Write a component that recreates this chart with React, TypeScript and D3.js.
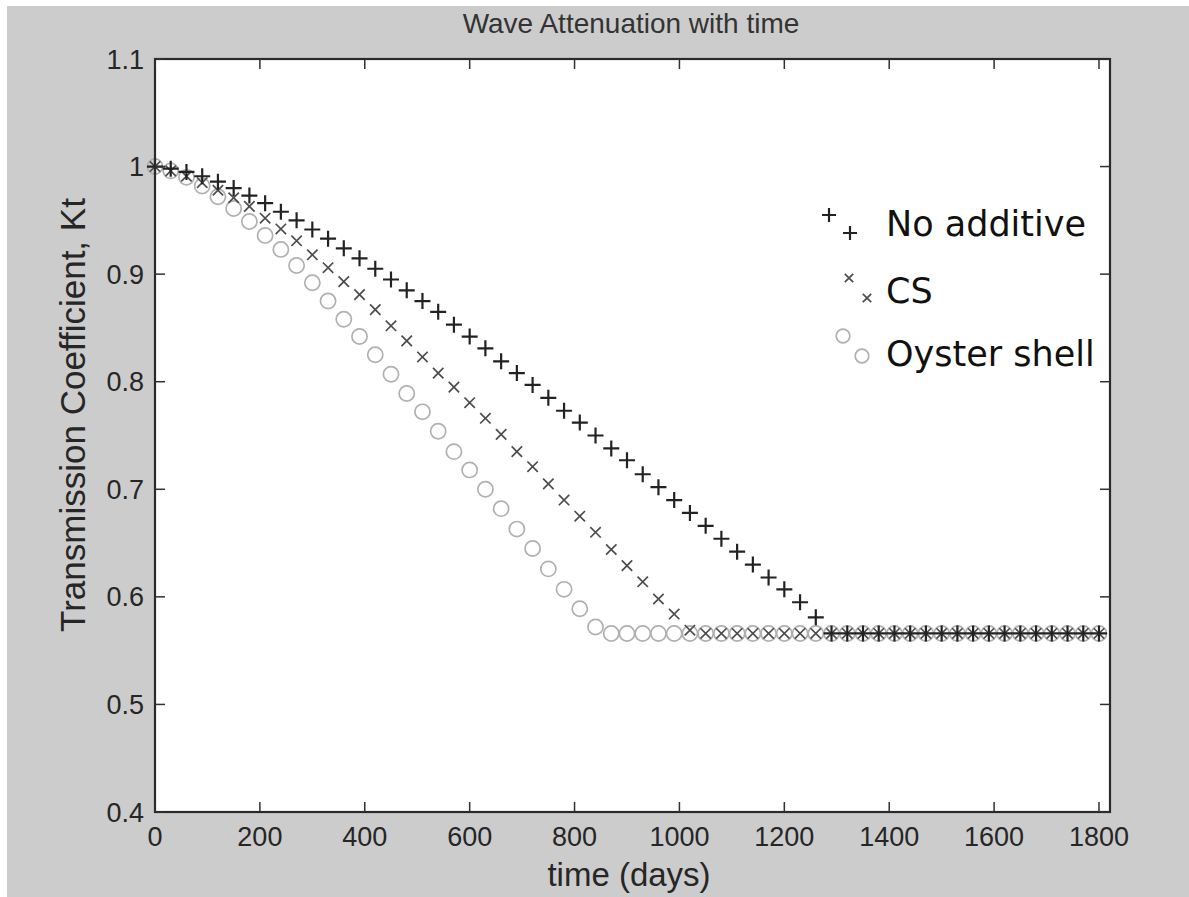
import React from "react";
import * as d3 from "d3";

const days = [
  0, 30, 60, 90, 120, 150, 180, 210, 240, 270,
  300, 330, 360, 390, 420, 450, 480, 510, 540, 570,
  600, 630, 660, 690, 720, 750, 780, 810, 840, 870,
  900, 930, 960, 990, 1020, 1050, 1080, 1110, 1140, 1170,
  1200, 1230, 1260, 1290, 1320, 1350, 1380, 1410, 1440, 1470,
  1500, 1530, 1560, 1590, 1620, 1650, 1680, 1710, 1740, 1770,
  1800,
];

const noAdditive = [
  1.0, 0.998, 0.995, 0.991, 0.986, 0.98, 0.973, 0.966, 0.958, 0.95,
  0.9415, 0.933, 0.924, 0.9147, 0.905, 0.895, 0.885, 0.875, 0.865, 0.853,
  0.842, 0.831, 0.819, 0.808, 0.797, 0.785, 0.773, 0.762, 0.75, 0.738,
  0.727, 0.714, 0.702, 0.69, 0.678, 0.666, 0.654, 0.642, 0.63, 0.618,
  0.607, 0.595, 0.581, 0.566, 0.566, 0.566, 0.566, 0.566, 0.566, 0.566,
  0.566, 0.566, 0.566, 0.566, 0.566, 0.566, 0.566, 0.566, 0.566, 0.566,
  0.566,
];

const cs = [
  1.0, 0.996, 0.991, 0.985, 0.978, 0.971, 0.963, 0.952, 0.942, 0.931,
  0.918, 0.906, 0.893, 0.881, 0.867, 0.852, 0.838, 0.823, 0.808, 0.795,
  0.7805, 0.766, 0.751, 0.735, 0.721, 0.705, 0.69, 0.675, 0.66, 0.644,
  0.629, 0.614, 0.598, 0.584, 0.569, 0.566, 0.566, 0.566, 0.566, 0.566,
  0.566, 0.566, 0.566, 0.566, 0.566, 0.566, 0.566, 0.566, 0.566, 0.566,
  0.566, 0.566, 0.566, 0.566, 0.566, 0.566, 0.566, 0.566, 0.566, 0.566,
  0.566,
];

const oyster = [
  1.0, 0.996, 0.99, 0.982, 0.972, 0.961, 0.949, 0.936, 0.923, 0.908,
  0.892, 0.875, 0.858, 0.842, 0.825, 0.807, 0.789, 0.772, 0.754, 0.735,
  0.718, 0.7, 0.682, 0.663, 0.645, 0.626, 0.607, 0.589, 0.572, 0.566,
  0.566, 0.566, 0.566, 0.566, 0.566, 0.566, 0.566, 0.566, 0.566, 0.566,
  0.566, 0.566, 0.566, 0.566, 0.566, 0.566, 0.566, 0.566, 0.566, 0.566,
  0.566, 0.566, 0.566, 0.566, 0.566, 0.566, 0.566, 0.566, 0.566, 0.566,
  0.566,
];

const xTicks = [0, 200, 400, 600, 800, 1000, 1200, 1400, 1600, 1800];
const yTicks = [0.4, 0.5, 0.6, 0.7, 0.8, 0.9, 1.0, 1.1];
const yTickLabels = ["0.4", "0.5", "0.6", "0.7", "0.8", "0.9", "1", "1.1"];
const legendLabels = ["No additive", "CS", "Oyster shell"];

const W = 1189;
const H = 897;
const plot = { left: 155, right: 1110, top: 59, bottom: 812 };

const tickFont = "'Liberation Sans', Arial, sans-serif";
const legendFont = "'DejaVu Sans', Verdana, sans-serif";

const PLUS_COLOR = "#222222";
const X_COLOR = "#4c4c4c";
const O_COLOR = "#b0b0b0";

function PlusMark({ x, y, s = 8 }: { x: number; y: number; s?: number }) {
  return (
    <path
      d={`M${x - s},${y}H${x + s}M${x},${y - s}V${y + s}`}
      stroke={PLUS_COLOR}
      strokeWidth={2.2}
      fill="none"
    />
  );
}
function XMark({ x, y, s = 5.2 }: { x: number; y: number; s?: number }) {
  return (
    <path
      d={`M${x - s},${y - s}L${x + s},${y + s}M${x - s},${y + s}L${x + s},${y - s}`}
      stroke={X_COLOR}
      strokeWidth={1.7}
      fill="none"
    />
  );
}
function OMark({ x, y, r = 7.6 }: { x: number; y: number; r?: number }) {
  return <circle cx={x} cy={y} r={r} stroke={O_COLOR} strokeWidth={1.7} fill="none" />;
}

export default function App() {
  const xScale = d3.scaleLinear().domain([0, 1821]).range([plot.left, plot.right]);
  const yScale = d3.scaleLinear().domain([0.4, 1.1]).range([plot.bottom, plot.top]);

  return (
    <svg
      width={W}
      height={H}
      style={{ position: "absolute", left: 0, top: 0, display: "block" }}
    >
      <rect x={0} y={0} width={W} height={H} fill="#ffffff" />
      <rect x={7} y={6} width={W - 7} height={H - 6} fill="#cccccc" />
      <rect
        x={plot.left}
        y={plot.top}
        width={plot.right - plot.left}
        height={plot.bottom - plot.top}
        fill="#ffffff"
      />

      {/* title */}
      <text
        x={631}
        y={33}
        textAnchor="middle"
        fontFamily={tickFont}
        fontSize={28}
        fill="#333"
      >
        Wave Attenuation with time
      </text>

      {/* series */}
      <g>
        {days.map((d, i) => (
          <OMark key={"o" + i} x={xScale(d)} y={yScale(oyster[i])} />
        ))}
        {days.map((d, i) => (
          <XMark key={"x" + i} x={xScale(d)} y={yScale(cs[i])} />
        ))}
        {days.map((d, i) => (
          <PlusMark key={"p" + i} x={xScale(d)} y={yScale(noAdditive[i])} />
        ))}
      </g>

      {/* frame */}
      <rect
        x={plot.left}
        y={plot.top}
        width={plot.right - plot.left}
        height={plot.bottom - plot.top}
        fill="none"
        stroke="#2a2a2a"
        strokeWidth={2.2}
      />
      {xTicks.map((t) => (
        <g key={"xt" + t}>
          <line x1={xScale(t)} x2={xScale(t)} y1={plot.bottom} y2={plot.bottom - 10} stroke="#303030" strokeWidth={1.5} />
          <line x1={xScale(t)} x2={xScale(t)} y1={plot.top} y2={plot.top + 10} stroke="#303030" strokeWidth={1.5} />
          <text
            x={xScale(t)}
            y={846}
            textAnchor="middle"
            fontFamily={tickFont}
            fontSize={27}
            fill="#262626"
          >
            {t}
          </text>
        </g>
      ))}
      {yTicks.map((t, i) => (
        <g key={"yt" + t}>
          <line x1={plot.left} x2={plot.left + 10} y1={yScale(t)} y2={yScale(t)} stroke="#303030" strokeWidth={1.5} />
          <line x1={plot.right} x2={plot.right - 10} y1={yScale(t)} y2={yScale(t)} stroke="#303030" strokeWidth={1.5} />
          <text
            x={144}
            y={yScale(t) + 9.5}
            textAnchor="end"
            fontFamily={tickFont}
            fontSize={27}
            fill="#262626"
          >
            {yTickLabels[i]}
          </text>
        </g>
      ))}

      {/* axis labels */}
      <text
        x={629}
        y={886}
        textAnchor="middle"
        fontFamily={tickFont}
        fontSize={33}
        fill="#262626"
      >
        time (days)
      </text>
      <text
        transform="translate(85,415) rotate(-90)"
        textAnchor="middle"
        fontFamily={tickFont}
        fontSize={35}
        fill="#262626"
      >
        Transmission Coefficient, Kt
      </text>

      {/* legend */}
      <g>
        <PlusMark x={829} y={215} s={7} />
        <PlusMark x={850} y={233} s={7} />
        <text x={886} y={236} fontFamily={legendFont} fontSize={35} fill="#111">
          {legendLabels[0]}
        </text>

        <XMark x={849} y={278} s={4.2} />
        <XMark x={867} y={298} s={4.2} />
        <text x={886} y={303} fontFamily={legendFont} fontSize={35} fill="#111">
          {legendLabels[1]}
        </text>

        <OMark x={843} y={336} r={6.8} />
        <OMark x={862} y={356} r={6.8} />
        <text x={886} y={366} fontFamily={legendFont} fontSize={35} fill="#111">
          {legendLabels[2]}
        </text>
      </g>
    </svg>
  );
}
